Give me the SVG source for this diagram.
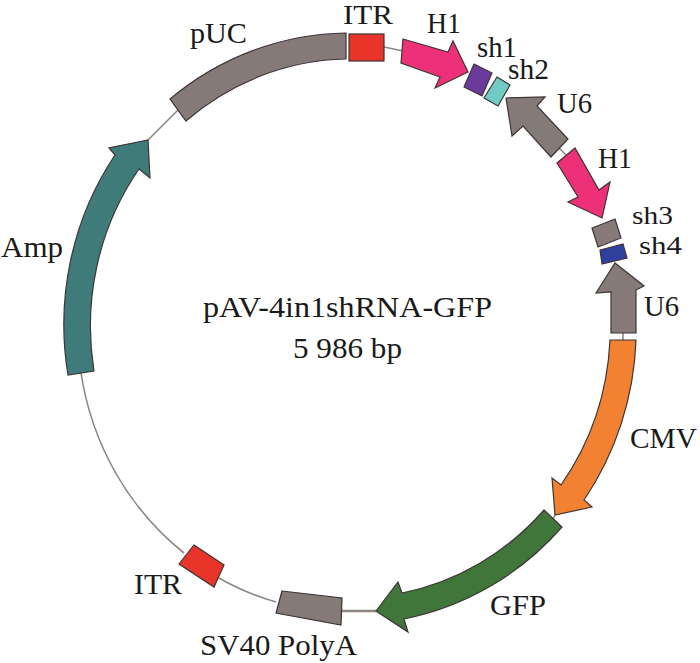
<svg xmlns="http://www.w3.org/2000/svg" width="700" height="663" viewBox="0 0 700 663">
<style>
.f{stroke:#3d3535;stroke-width:1.2;stroke-linejoin:miter}
.g{fill:#857a78}
.pk{fill:#ee3079}
.rd{fill:#e83429}
.c{fill:none;stroke:#8f8683;stroke-width:1.6}
.s{font-size:26px}
text{font-family:"Liberation Serif","Times New Roman",serif;font-size:29px;fill:#1a1a1a}
</style>
<rect width="700" height="663" fill="#fff"/>
<g id="connectors">
<path class="c" d="M384 47L403 51"/>
<path class="c" d="M559 148L566 155"/>
<path class="c" d="M623 333V340"/>
<path class="c" d="M555 515L553 519"/>
<path class="c" d="M342 611H376" style="stroke-width:2.4"/>
<path class="c" d="M276 602A272 283 0 0 1 217 577"/>
<path class="c" d="M184 553A272 283 0 0 1 81 373"/>
<path class="c" d="M148 140L178 110"/>
</g>
<g id="pUC"><path class="f g" d="M170 99A286 297 0 0 1 346 33V59A258 269 0 0 0 186 121Z"/><text x="190" y="43" textLength="57" lengthAdjust="spacingAndGlyphs">pUC</text></g>
<g id="ITR-top"><rect class="f rd" x="349" y="34" width="35" height="27"/><text x="343" y="24" style="font-size:27px" textLength="50" lengthAdjust="spacingAndGlyphs">ITR</text></g>
<g id="H1-a"><path class="f pk" d="M403 39L448 52L453 41L468 72L435 88L440 77L401 63Z"/><text x="427" y="33" textLength="34" lengthAdjust="spacingAndGlyphs">H1</text></g>
<g id="sh1"><path class="f" fill="#6a3a9c" d="M474 64L492 73L482 96L464 87Z"/><text x="477" y="57" textLength="40" lengthAdjust="spacingAndGlyphs">sh1</text></g>
<g id="sh2"><path class="f" fill="#6fcbc4" d="M497 77L510 85L498 106L484 98Z"/><text x="508" y="79" textLength="41" lengthAdjust="spacingAndGlyphs">sh2</text></g>
<g id="U6-a"><path class="f g" d="M506 98L545 97L537 106L568 139L551 157L523 126L512 136Z"/><text x="557" y="113" textLength="35" lengthAdjust="spacingAndGlyphs">U6</text></g>
<g id="H1-b"><path class="f pk" d="M575 148L557 163L578 197L568 202L602 218L610 182L599 190Z"/><text x="598" y="168" textLength="34" lengthAdjust="spacingAndGlyphs">H1</text></g>
<g id="sh3"><path class="f g" d="M615 219L621 238L598 247L592 228Z"/><text class="s" x="632" y="224" textLength="41" lengthAdjust="spacingAndGlyphs">sh3</text></g>
<g id="sh4"><path class="f" fill="#2f3f9e" d="M600 250L623 244L627 258L602 264Z"/><text class="s" x="639" y="254" textLength="43" lengthAdjust="spacingAndGlyphs">sh4</text></g>
<g id="U6-b"><path class="f g" d="M615 263L644 286L636 290V333H611V292L596 293Z"/><text x="644" y="316" textLength="35" lengthAdjust="spacingAndGlyphs">U6</text></g>
<g id="CMV"><path class="f" fill="#f28232" d="M610 340H636A286 297 0 0 1 584 500L592 507L555 515L552 478L561 485A258 269 0 0 0 610 340Z"/><text x="630" y="448" textLength="67" lengthAdjust="spacingAndGlyphs">CMV</text></g>
<g id="GFP"><path class="f" fill="#41763a" d="M544 510L562 527A286 297 0 0 1 404 619L408 632L376 611L398 582L402 593A258 269 0 0 0 544 510Z"/><text x="490" y="615" textLength="56" lengthAdjust="spacingAndGlyphs">GFP</text></g>
<g id="SV40"><path class="f g" d="M282 591L342 598L341 625L276 613Z"/><text x="200" y="655" textLength="157" lengthAdjust="spacingAndGlyphs">SV40 PolyA</text></g>
<g id="ITR-bottom"><path class="f rd" d="M194 545L224 565L214 587L179 564Z"/><text x="134" y="594" textLength="48" lengthAdjust="spacingAndGlyphs">ITR</text></g>
<g id="Amp"><path class="f" fill="#3f7b78" d="M68 375A286 297 0 0 1 115 155L109 148L148 140L150 178L139 169A258 269 0 0 0 94 371Z"/><text x="1" y="257" textLength="62" lengthAdjust="spacingAndGlyphs">Amp</text></g>
<g id="title"><text x="203" y="317" textLength="289" lengthAdjust="spacingAndGlyphs">pAV-4in1shRNA-GFP</text><text x="293" y="358" textLength="109" lengthAdjust="spacingAndGlyphs">5 986 bp</text></g>
</svg>
